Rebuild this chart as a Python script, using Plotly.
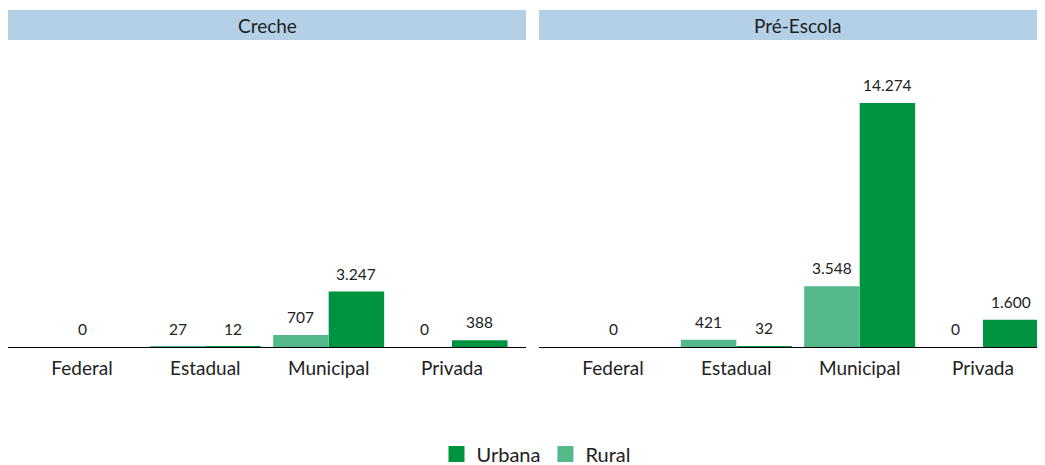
import plotly.graph_objects as go

categories = ["Federal", "Estadual", "Municipal", "Privada"]
panels = ["Creche", "Pré-Escola"]
creche_rural = [None, 27, 707, 0]
creche_urbana = [0, 12, 3247, 388]
pre_rural = [None, 421, 3548, 0]
pre_urbana = [0, 32, 14274, 1600]

C_URB = "#009440"
C_RUR = "#55b88b"
STRIP = "#b4d0e7"
FONT = "Lato"

fig = go.Figure()

def offsets(rural, urbana):
    ro, rw, uo, uw = [], [], [], []
    for r, u in zip(rural, urbana):
        if r is not None and u is not None:
            ro.append(-0.45); rw.append(0.45); uo.append(0.0); uw.append(0.45)
        else:
            ro.append(-0.45); rw.append(0.9); uo.append(-0.45); uw.append(0.9)
    return ro, rw, uo, uw

def fmt(v):
    return f"{v:,}".replace(",", ".")

data = [(creche_rural, creche_urbana, "x", "y"), (pre_rural, pre_urbana, "x2", "y2")]
for i, (rural, urbana, xa, ya) in enumerate(data):
    ro, rw, uo, uw = offsets(rural, urbana)
    fig.add_trace(go.Bar(
        x=categories, y=urbana, name="Urbana", marker_color=C_URB,
        marker_line_width=0, offset=uo, width=uw, xaxis=xa, yaxis=ya,
        showlegend=False,
    ))
    fig.add_trace(go.Bar(
        x=categories, y=rural, name="Rural", marker_color=C_RUR,
        marker_line_width=0, offset=ro, width=rw, xaxis=xa, yaxis=ya,
        showlegend=False,
    ))
    for vals, offs, wids in ((urbana, uo, uw), (rural, ro, rw)):
        for k, v in enumerate(vals):
            if v is None:
                continue
            fig.add_annotation(
                x=k + offs[k] + wids[k] / 2, y=v, xref=xa, yref=ya,
                text=fmt(v), showarrow=False, yanchor="bottom", yshift=7,
                font=dict(family=FONT, size=15.5, color="#222"),
            )

# legend entries
for name, col in (("Urbana", C_URB), ("Rural", C_RUR)):
    fig.add_trace(go.Scatter(
        x=[None], y=[None], mode="markers", name=name,
        marker=dict(symbol="square", size=18, color=col),
        xaxis="x", yaxis="y", showlegend=True,
    ))

W, H = 1049, 470
ml, mr, mt, mb = 0, 0, 2, 0
pw = W - ml - mr
ph = H - mt - mb
bottom_fig = H - mb               # figure px of plot bottom
base = 339                         # figure px of baseline
strip_bot = 32
ydom = [(bottom_fig - base) / ph, (bottom_fig - strip_bot) / ph]
d1 = [0, 518 / pw]
d2 = [531 / pw, 1]

xcommon = dict(showline=True, linecolor="black", linewidth=1.3, ticks="",
               showgrid=False, zeroline=False, categoryorder="array",
               categoryarray=categories, range=[-0.6, 3.6],
               ticklabelstandoff=4,
               tickfont=dict(family=FONT, size=19, color="#222"))
ycommon = dict(visible=False, range=[0, 17960], showgrid=False, zeroline=False,
               domain=ydom)

fig.update_layout(
    width=W, height=H, margin=dict(l=ml, r=mr, t=mt, b=mb),
    barmode="overlay",
    plot_bgcolor="white", paper_bgcolor="white",
    font=dict(family=FONT, size=15, color="#222"),
    xaxis=dict(domain=d1, anchor="y", **xcommon),
    xaxis2=dict(domain=d2, anchor="y2", **xcommon),
    yaxis=dict(anchor="x", **ycommon),
    yaxis2=dict(anchor="x2", matches="y", **ycommon),
    legend=dict(orientation="h", x=528 / pw, xanchor="center",
                y=(bottom_fig - 446) / ph, yanchor="middle",
                font=dict(family=FONT, size=20, color="#222"),
                traceorder="normal", itemwidth=30),
    showlegend=True,
)

for dom, title in zip([d1, d2], panels):
    fig.add_shape(type="rect", xref="paper", yref="paper",
                  x0=dom[0], x1=dom[1], y0=ydom[1], y1=1,
                  fillcolor=STRIP, line=dict(width=0), layer="below")
    fig.add_annotation(text=title, xref="paper", yref="paper",
                       x=(dom[0] + dom[1]) / 2, y=(ydom[1] + 1) / 2, showarrow=False,
                       font=dict(family=FONT, size=19, color="#222"),
                       xanchor="center", yanchor="middle")

fig.write_html("out.html")
